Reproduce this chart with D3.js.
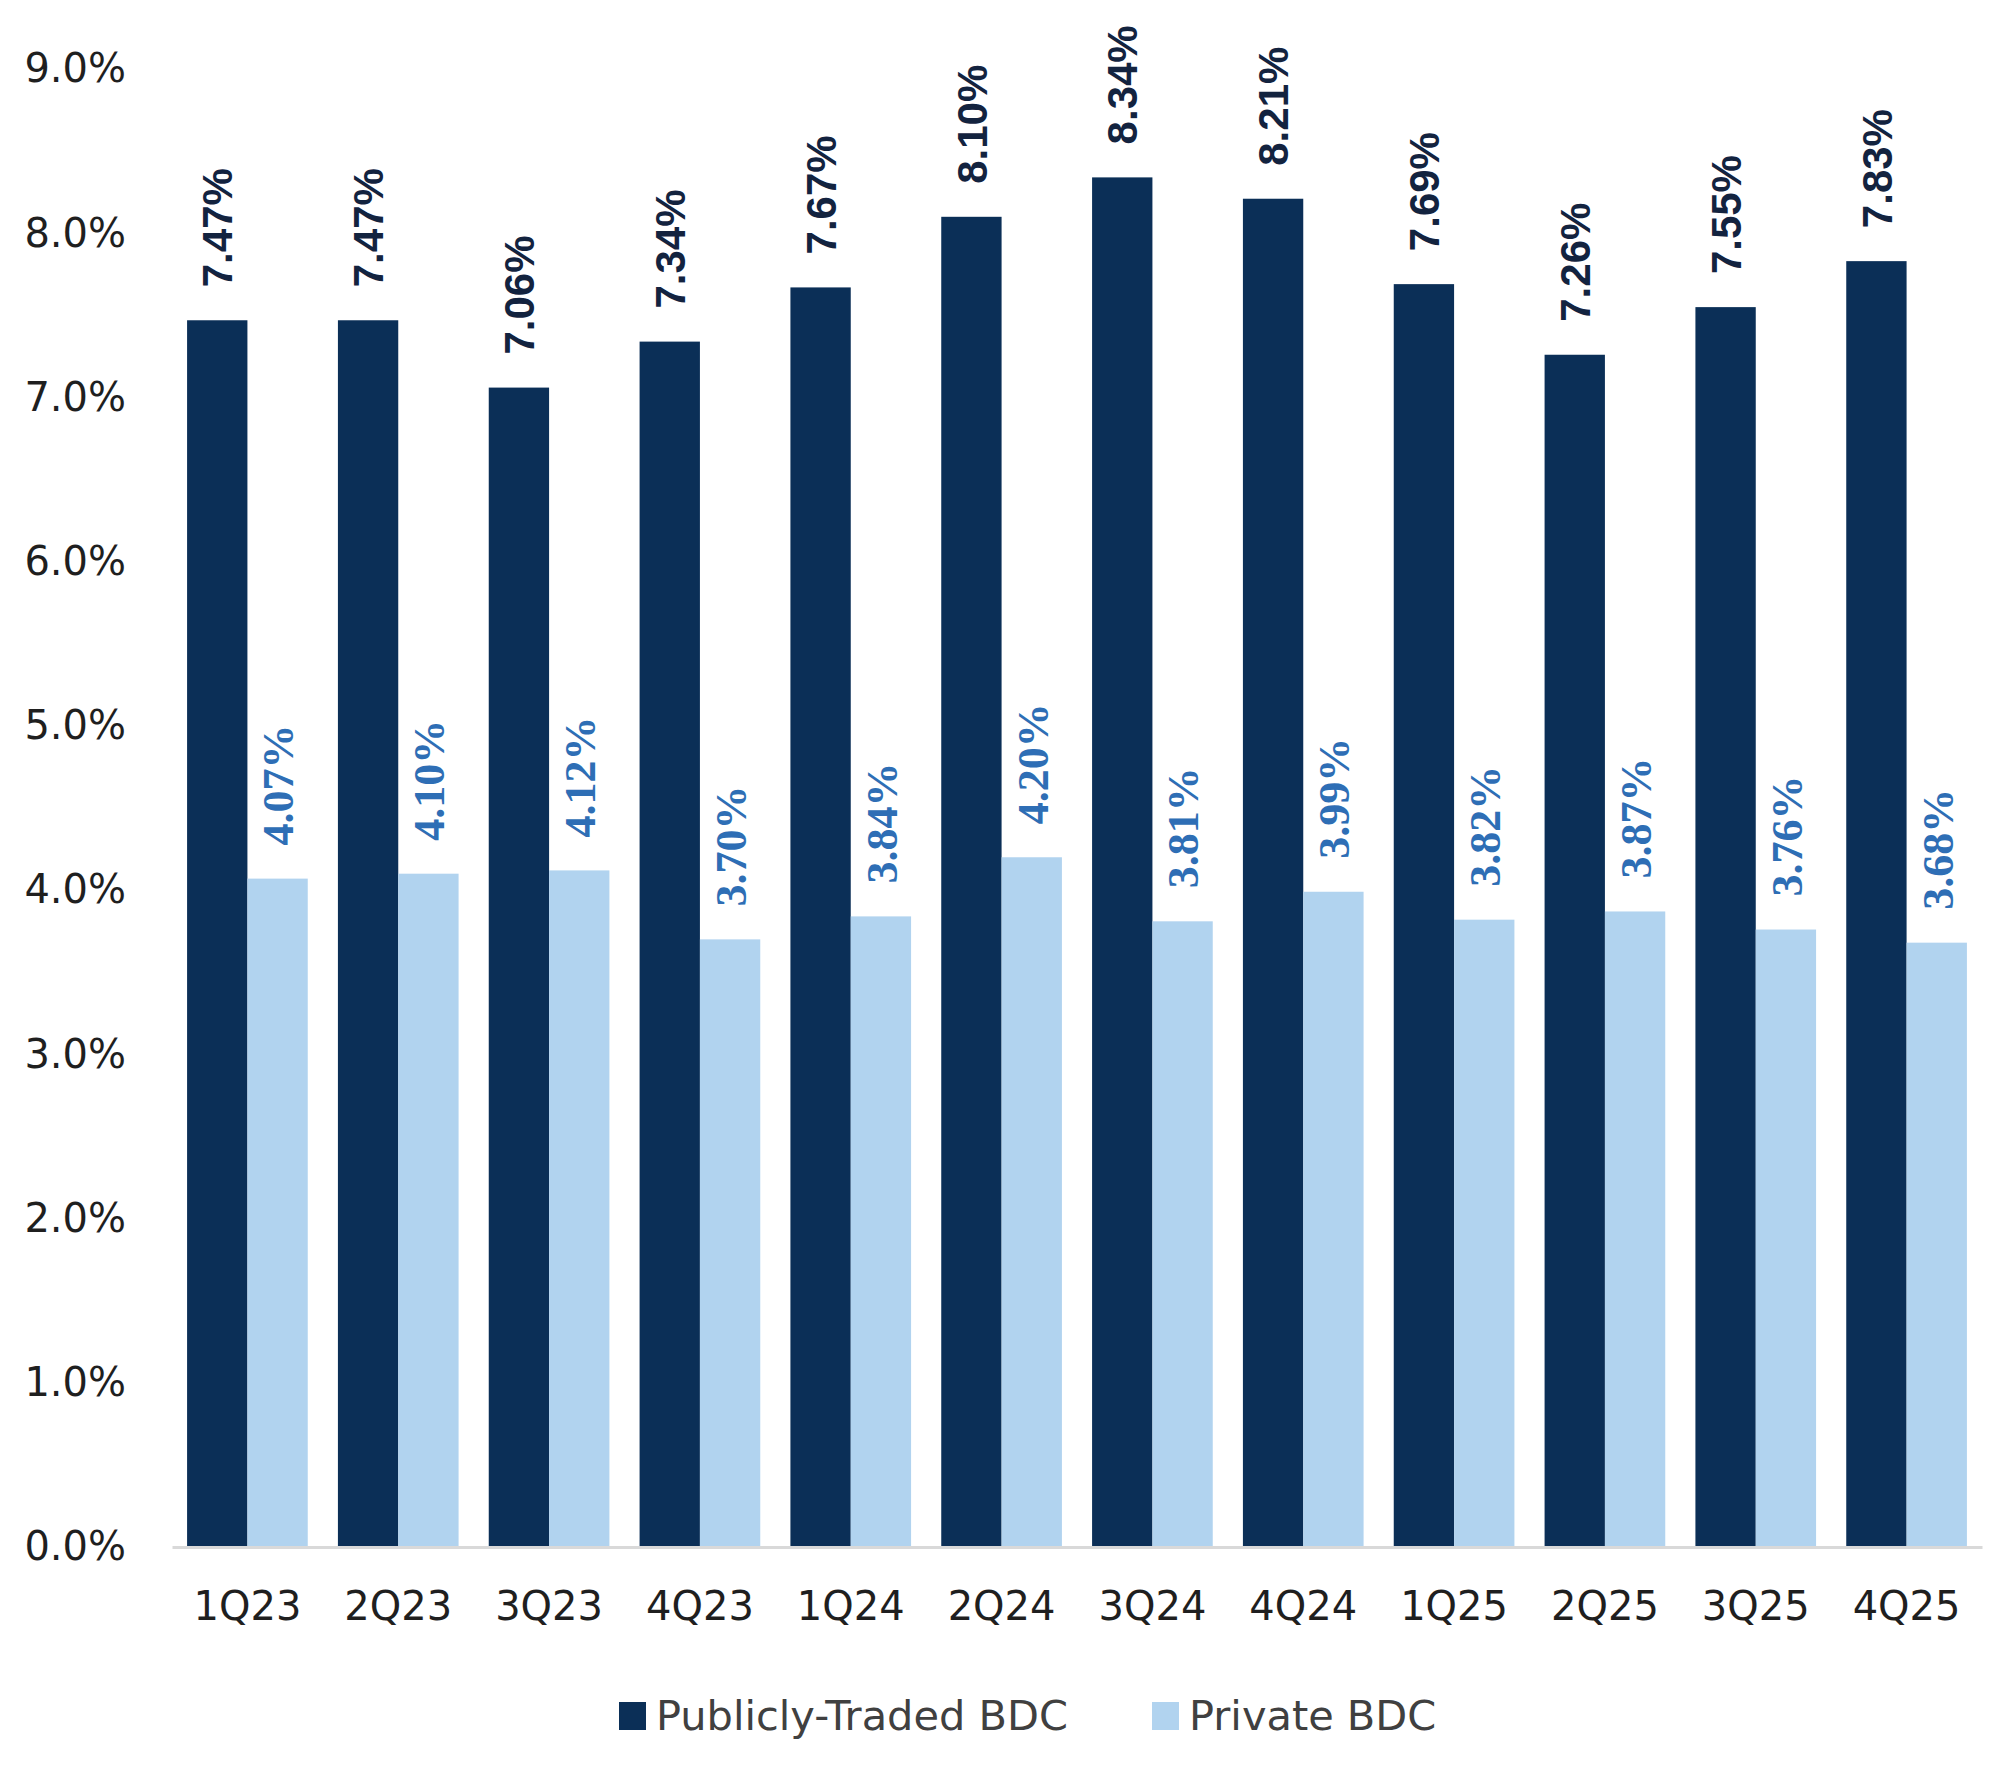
<!doctype html>
<html>
<head>
<meta charset="UTF-8">
<title>BDC chart</title>
<script src="https://d3js.org/d3.v7.min.js"></script>
<style>
    body { margin: 0; background: #fff; }
    .axis text { font-family: "DejaVu Sans", sans-serif; font-size: 40px; fill: #1f1f1f; }
</style>
</head>
<body>
<svg width="2000" height="1778"></svg>
<script>
    // data
    var quarters = ["1Q23", "2Q23", "3Q23", "4Q23", "1Q24", "2Q24", "3Q24", "4Q24", "1Q25", "2Q25", "3Q25", "4Q25"];
    var publicBdc = [7.47, 7.47, 7.06, 7.34, 7.67, 8.10, 8.34, 8.21, 7.69, 7.26, 7.55, 7.83];
    var privateBdc = [4.07, 4.10, 4.12, 3.70, 3.84, 4.20, 3.81, 3.99, 3.82, 3.87, 3.76, 3.68];
    var seriesNames = ["Publicly-Traded BDC", "Private BDC"];
    var yTicks = [0, 1, 2, 3, 4, 5, 6, 7, 8, 9];

    var colors = ["#0b2f57", "#b1d3ef"];
    var labelColors = ["#13233f", "#2e6eb5"];
    var labelFonts = ["'Liberation Sans', sans-serif", "'Liberation Serif', serif"];
    var labelSizes = ["42px", "44px"];

    var svg = d3.select("svg");

    var y = d3.scaleLinear().domain([0, 9]).range([1547, 69]);
    var x0 = d3.scaleBand().domain(quarters).range([172, 1982])
        .paddingInner(0.2).paddingOuter(0.1);
    var x1 = d3.scaleBand().domain([0, 1]).range([0, x0.bandwidth()]);

    var rows = quarters.map(function(q, i) {
        return { q: q, vals: [publicBdc[i], privateBdc[i]] };
    });

    // y axis labels
    svg.append("g")
        .attr("class", "axis")
        .attr("transform", "translate(126,0)")
        .call(d3.axisLeft(y).tickValues(yTicks).tickSize(0).tickPadding(0)
            .tickFormat(function(d) { return d.toFixed(1) + "%"; }))
        .call(function(g) { g.select(".domain").remove(); });

    var groups = svg.selectAll("g.grp")
        .data(rows)
        .enter().append("g")
        .attr("class", "grp")
        .attr("transform", function(d) { return "translate(" + x0(d.q) + ",0)"; });

    groups.selectAll("rect")
        .data(function(d) { return d.vals; })
        .enter().append("rect")
        .attr("x", function(d, i) { return x1(i); })
        .attr("y", function(d) { return y(d); })
        .attr("width", x1.bandwidth())
        .attr("height", function(d) { return y(0) - y(d); })
        .attr("fill", function(d, i) { return colors[i]; });

    groups.selectAll("text.val")
        .data(function(d) { return d.vals; })
        .enter().append("text")
        .attr("class", "val")
        .attr("transform", function(d, i) {
            return "translate(" + (x1(i) + x1.bandwidth() / 2) + "," + (y(d) - 33) + ") rotate(-90)";
        })
        .attr("dy", "0.36em")
        .attr("font-family", function(d, i) { return labelFonts[i]; })
        .attr("font-weight", "bold")
        .attr("font-size", function(d, i) { return labelSizes[i]; })
        .attr("fill", function(d, i) { return labelColors[i]; })
        .text(function(d) { return d.toFixed(2) + "%"; });

    // x axis
    var xAxis = svg.append("g")
        .attr("class", "axis")
        .attr("transform", "translate(0," + y(0) + ")")
        .call(d3.axisBottom(x0).tickSize(0).tickPadding(45));
    xAxis.select(".domain").attr("stroke", "#d9d9d9").attr("stroke-width", 3);

    // legend
    var legendX = [619, 1152];
    var legend = svg.selectAll("g.leg")
        .data(seriesNames)
        .enter().append("g")
        .attr("class", "leg")
        .attr("transform", function(d, i) { return "translate(" + legendX[i] + ",1702)"; });
    legend.append("rect")
        .attr("width", 27).attr("height", 28)
        .attr("fill", function(d, i) { return colors[i]; });
    legend.append("text")
        .attr("x", 37).attr("y", 28)
        .attr("font-family", "'DejaVu Sans', sans-serif")
        .attr("font-size", "41.5px")
        .attr("fill", "#404040")
        .text(function(d) { return d; });
</script>
</body>
</html>
